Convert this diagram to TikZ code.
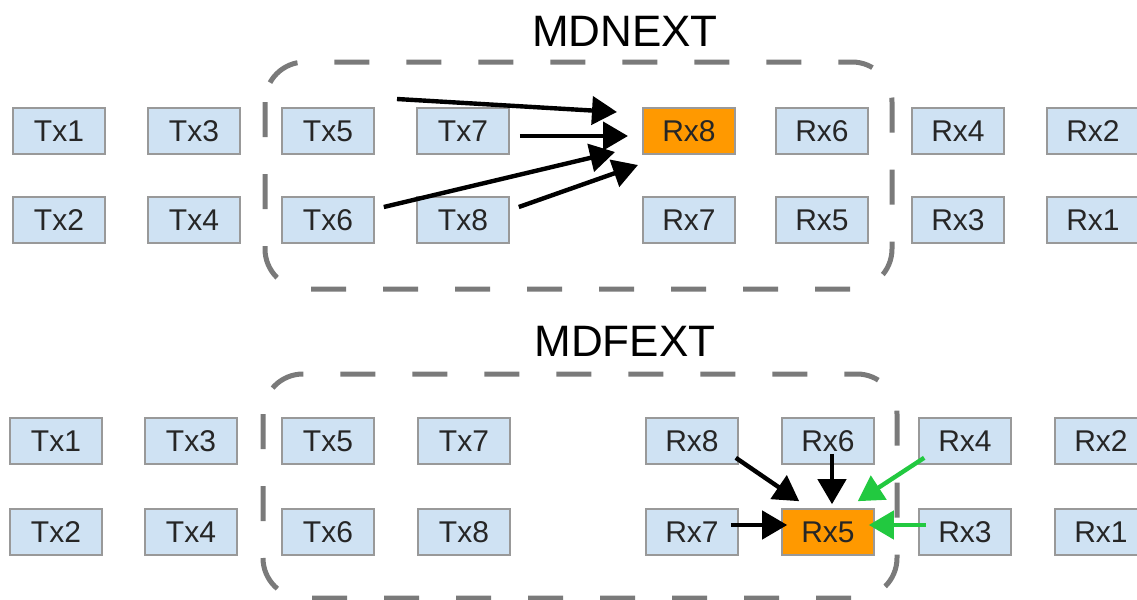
\documentclass[tikz,border=0pt]{standalone}
\usepackage{fontspec}
\setmainfont{Liberation Sans}
\usepackage{tikz}
\usetikzlibrary{arrows.meta}
\usetikzlibrary{positioning}

\definecolor{boxblue}{HTML}{CFE2F3}
\definecolor{boxline}{HTML}{999999}
\definecolor{hitorange}{HTML}{FF9900}
\definecolor{fextgreen}{HTML}{22C940}
\definecolor{zonegray}{HTML}{7A7A7A}

\begin{document}
\begin{tikzpicture}[x=0.5pt,y=-0.5pt]
	\useasboundingbox (0,0) rectangle (1137,600);

	% zones
	\draw[zonegray, line width=2.5pt, dash pattern=on 17.5pt off 18.5pt, rounded corners=20pt]
		(265,62) rectangle (892,289);
	\draw[zonegray, line width=2.5pt, dash pattern=on 17.5pt off 18.5pt, rounded corners=20pt]
		(263,374) rectangle (897,598);
	\node (nexttitle) at (625,31) {\fontsize{22}{24}\selectfont MDNEXT};
	\node (fexttitle) at (625,341) {\fontsize{22}{24}\selectfont MDFEXT};

	% MDNEXT pairs
	\begin{scope}[every node/.style={rectangle, draw=boxline, line width=0.8pt, fill=boxblue,
	              minimum width=46pt, minimum height=23pt, inner sep=0pt,
	              text=black!85, font=\fontsize{15}{17}\selectfont}]
		\node (nTx1) at (59,131) {Tx1};
		\node (nTx2) at (59,220) {Tx2};
		\node (nTx3) at (194,131) {Tx3};
		\node (nTx4) at (194,220) {Tx4};
		\node (nTx5) at (328,131) {Tx5};
		\node (nTx6) at (328,220) {Tx6};
		\node (nTx7) at (463,131) {Tx7};
		\node (nTx8) at (463,220) {Tx8};
		\node[fill=hitorange] (nRx8) at (689,131) {Rx8};
		\node (nRx7) at (689,220) {Rx7};
		\node (nRx6) at (822,131) {Rx6};
		\node (nRx5) at (822,220) {Rx5};
		\node (nRx4) at (958,131) {Rx4};
		\node (nRx3) at (958,220) {Rx3};
		\node (nRx2) at (1093,131) {Rx2};
		\node (nRx1) at (1093,220) {Rx1};
	\end{scope}

	% MDFEXT pairs
	\begin{scope}[every node/.style={rectangle, draw=boxline, line width=0.8pt, fill=boxblue,
	              minimum width=46pt, minimum height=23pt, inner sep=0pt,
	              text=black!85, font=\fontsize{15}{17}\selectfont}]
		\node (fTx1) at (56,441) {Tx1};
		\node (fTx2) at (56,532) {Tx2};
		\node (fTx3) at (191,441) {Tx3};
		\node (fTx4) at (191,532) {Tx4};
		\node (fTx5) at (328,441) {Tx5};
		\node (fTx6) at (328,532) {Tx6};
		\node (fTx7) at (464,441) {Tx7};
		\node (fTx8) at (464,532) {Tx8};
		\node (fRx8) at (692,441) {Rx8};
		\node (fRx7) at (692,532) {Rx7};
		\node (fRx6) at (828,441) {Rx6};
		\node[fill=hitorange] (fRx5) at (828,532) {Rx5};
		\node (fRx4) at (965,441) {Rx4};
		\node (fRx3) at (965,532) {Rx3};
		\node (fRx2) at (1101,441) {Rx2};
		\node (fRx1) at (1101,532) {Rx1};
	\end{scope}

	\coordinate (nfrom5) at (397,99);
	\coordinate (nin1) at (617,112);
	\coordinate (nin2) at (628,136);
	\coordinate (nin3) at (615,152);
	\coordinate (nin4) at (638,165);

	\begin{scope}[>={Triangle[length=12.5pt,width=14pt]}, line width=2.2pt]
		\draw[->] (nfrom5) -- (nin1);
		\draw[->] ([shift={(10,5)}]nTx7.east) -- (nin2);
		\draw[->] ([shift={(9,-13)}]nTx6.east) -- (nin3);
		\draw[->] ([shift={(9,-13)}]nTx8.east) -- (nin4);

		\draw[->] ([shift={(-3,-7)}]fRx8.south east) -- ([shift={(18,-7)}]fRx5.north west);
		\draw[->] ([shift={(4,-11)}]fRx6.south) -- ([shift={(4,-4)}]fRx5.north);
		\draw[->] ([shift={(-8,-7)}]fRx7.east) -- ([shift={(6,-7)}]fRx5.west);
		\draw[->, fextgreen] ([shift={(6,-7)}]fRx4.south west) -- ([shift={(-17,-7)}]fRx5.north east);
		\draw[->, fextgreen] ([shift={(8,-7)}]fRx3.west) -- ([shift={(-6,-7)}]fRx5.east);
	\end{scope}
\end{tikzpicture}
\end{document}
